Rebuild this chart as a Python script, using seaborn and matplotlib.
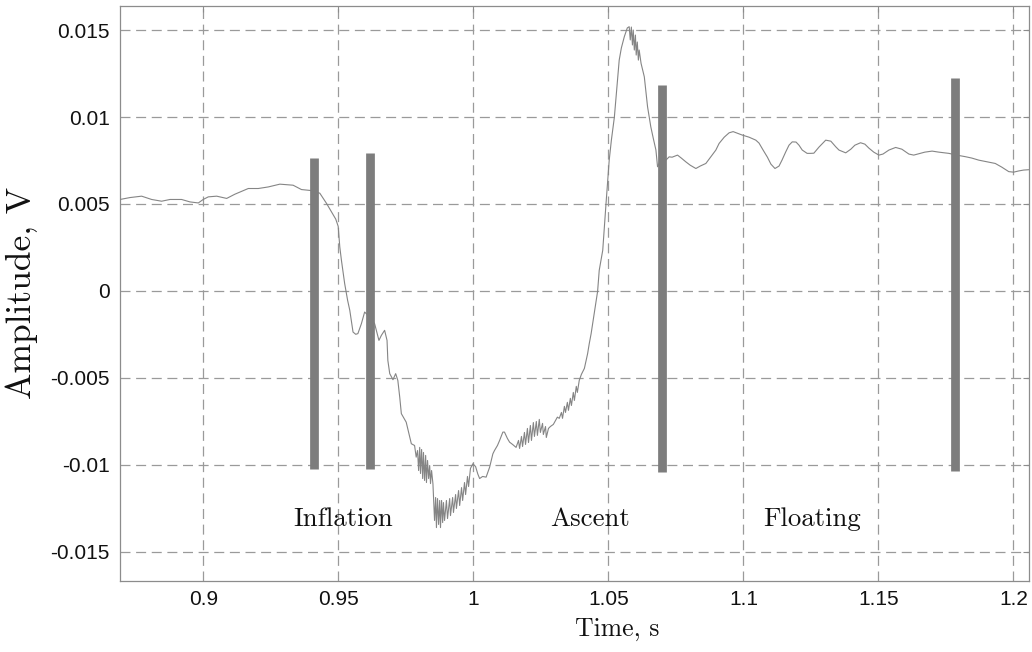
import numpy as np
import pandas as pd
import matplotlib
matplotlib.use("Agg")
import matplotlib.pyplot as plt
import seaborn as sns

# Recorded signal: time (s) and amplitude (V)
time_s = [
    0.8691, 0.8728, 0.8771, 0.8808, 0.8845, 0.8876, 0.8919, 0.8950, 0.8981, 0.8999,
    0.9018, 0.9049, 0.9086, 0.9116, 0.9166, 0.9203, 0.9240, 0.9283, 0.9332, 0.9363,
    0.9401, 0.9431, 0.9456, 0.9475, 0.9490, 0.9499, 0.9505, 0.9511, 0.9523, 0.9534,
    0.9542, 0.9554, 0.9564, 0.9572, 0.9585, 0.9597, 0.9616, 0.9634, 0.9650, 0.9659,
    0.9671, 0.9680, 0.9683, 0.9690, 0.9702, 0.9712, 0.9720, 0.9727, 0.9733, 0.9751,
    0.9764, 0.9770, 0.9782, 0.9788,
    0.9793, 0.9797, 0.9801, 0.9804, 0.9808, 0.9812, 0.9815, 0.9819, 0.9823, 0.9826,
    0.9830, 0.9834, 0.9838, 0.9841, 0.9845, 0.9850,
    0.9852, 0.9856, 0.9860, 0.9863, 0.9867, 0.9871, 0.9875, 0.9878, 0.9882, 0.9886,
    0.9889, 0.9893, 0.9900, 0.9904, 0.9912, 0.9915, 0.9923, 0.9926, 0.9934, 0.9937,
    0.9945, 0.9949, 0.9956, 0.9960, 0.9967, 0.9971, 0.9978, 0.9982,
    0.9989, 0.9998, 1.0008, 1.0016, 1.0023, 1.0034, 1.0047, 1.0060, 1.0072, 1.0078,
    1.0089, 1.0097, 1.0109, 1.0115, 1.0126, 1.0134, 1.0145, 1.0158,
    1.0167, 1.0171, 1.0178, 1.0182, 1.0189, 1.0193, 1.0200, 1.0204, 1.0211, 1.0215,
    1.0222, 1.0226, 1.0233, 1.0237, 1.0244, 1.0248, 1.0256, 1.0259, 1.0267, 1.0270,
    1.0278, 1.0285, 1.0296, 1.0304, 1.0311, 1.0318, 1.0326, 1.0330, 1.0337, 1.0341,
    1.0348, 1.0352, 1.0359, 1.0363, 1.0370, 1.0374, 1.0381, 1.0385, 1.0392, 1.0400,
    1.0411, 1.0423, 1.0429, 1.0436, 1.0448, 1.0460, 1.0466, 1.0479, 1.0491, 1.0503,
    1.0511, 1.0522, 1.0529, 1.0540, 1.0548, 1.0559, 1.0570, 1.0577,
    1.0581, 1.0585, 1.0589, 1.0592, 1.0596, 1.0600, 1.0603, 1.0607, 1.0611, 1.0614,
    1.0621, 1.0633, 1.0645, 1.0657, 1.0666, 1.0676, 1.0682, 1.0688, 1.0699, 1.0713,
    1.0725, 1.0736, 1.0756, 1.0770, 1.0787, 1.0803, 1.0824, 1.0840, 1.0861, 1.0881,
    1.0898, 1.0910, 1.0929, 1.0947, 1.0962, 1.0977, 1.0996, 1.1021, 1.1046, 1.1058,
    1.1073, 1.1089, 1.1102, 1.1117, 1.1132, 1.1143, 1.1157, 1.1169, 1.1181, 1.1195,
    1.1206, 1.1218, 1.1236, 1.1249, 1.1261, 1.1280, 1.1305, 1.1324, 1.1342, 1.1354,
    1.1379, 1.1398, 1.1413, 1.1434, 1.1450, 1.1465, 1.1483, 1.1502, 1.1517, 1.1539,
    1.1564, 1.1587, 1.1613, 1.1631, 1.1650, 1.1672, 1.1699, 1.1724, 1.1761, 1.1790,
    1.1822, 1.1846, 1.1872, 1.1901, 1.1933, 1.1957, 1.1983, 1.2001, 1.2020, 1.2038,
    1.2057,
]
amplitude_v = [
    0.00526, 0.00537, 0.00545, 0.00526, 0.00516, 0.00526, 0.00526, 0.00512, 0.00506, 0.00526,
    0.00541, 0.00545, 0.00532, 0.00556, 0.00589, 0.00589, 0.00598, 0.00614, 0.00608, 0.00583,
    0.00577, 0.00562, 0.00503, 0.00453, 0.00413, 0.00372, 0.00253, 0.00177, 0.00043, -0.00054,
    -0.00111, -0.00236, -0.00249, -0.00245, -0.00188, -0.00121, -0.00150, -0.00188, -0.00284, -0.00255,
    -0.00226, -0.00284, -0.00399, -0.00475, -0.00510, -0.00475, -0.00514, -0.00610, -0.00705, -0.00754,
    -0.00840, -0.00878, -0.00888, -0.00955,
    -0.00917, -0.01032, -0.00899, -0.01049, -0.00911, -0.01078, -0.00928, -0.01089, -0.00945, -0.01101,
    -0.00974, -0.01078, -0.01003, -0.01107, -0.01032, -0.01108,
    -0.01176, -0.01319, -0.01187, -0.01360, -0.01193, -0.01342, -0.01204, -0.01360, -0.01204, -0.01331,
    -0.01216, -0.01319, -0.01204, -0.01308, -0.01193, -0.01291, -0.01187, -0.01273, -0.01170, -0.01250,
    -0.01147, -0.01233, -0.01130, -0.01204, -0.01101, -0.01170, -0.01066, -0.01124,
    -0.01020, -0.00993, -0.01009, -0.01051, -0.01078, -0.01066, -0.01070, -0.01013, -0.00936, -0.00917,
    -0.00888, -0.00859, -0.00811, -0.00811, -0.00848, -0.00869, -0.00882, -0.00899,
    -0.00859, -0.00905, -0.00836, -0.00894, -0.00813, -0.00882, -0.00790, -0.00871, -0.00773, -0.00859,
    -0.00756, -0.00836, -0.00750, -0.00830, -0.00738, -0.00813, -0.00761, -0.00825, -0.00779, -0.00842,
    -0.00790, -0.00779, -0.00767, -0.00744, -0.00725, -0.00732, -0.00698, -0.00732, -0.00663, -0.00698,
    -0.00640, -0.00686, -0.00617, -0.00658, -0.00583, -0.00629, -0.00548, -0.00583, -0.00514, -0.00479,
    -0.00445, -0.00360, -0.00303, -0.00245, -0.00123, -0.00002, 0.00119, 0.00234, 0.00499, 0.00752,
    0.00867, 0.00998, 0.01126, 0.01327, 0.01397, 0.01462, 0.01512, 0.01519,
    0.01443, 0.01517, 0.01414, 0.01500, 0.01385, 0.01471, 0.01356, 0.01431, 0.01327, 0.01385,
    0.01308, 0.01231, 0.01059, 0.00944, 0.00879, 0.00810, 0.00714, 0.00733, 0.00764, 0.00752,
    0.00771, 0.00769, 0.00781, 0.00764, 0.00742, 0.00723, 0.00704, 0.00718, 0.00733, 0.00775,
    0.00810, 0.00848, 0.00884, 0.00909, 0.00916, 0.00907, 0.00896, 0.00884, 0.00867, 0.00850,
    0.00810, 0.00769, 0.00729, 0.00704, 0.00718, 0.00752, 0.00800, 0.00838, 0.00857, 0.00856,
    0.00838, 0.00810, 0.00791, 0.00791, 0.00792, 0.00827, 0.00867, 0.00861, 0.00829, 0.00810,
    0.00794, 0.00815, 0.00838, 0.00852, 0.00844, 0.00821, 0.00798, 0.00781, 0.00787, 0.00810,
    0.00825, 0.00815, 0.00787, 0.00781, 0.00789, 0.00798, 0.00804, 0.00798, 0.00791, 0.00781,
    0.00772, 0.00764, 0.00752, 0.00743, 0.00733, 0.00712, 0.00686, 0.00683, 0.00690, 0.00695,
    0.00697,
]

# Phase boundary markers
marker_time = [0.9409, 0.9616, 1.0700, 1.1783]
marker_low = [-0.01022, -0.01022, -0.01041, -0.01032]
marker_high = [0.00762, 0.00791, 0.01184, 0.01222]

# Phase annotations
phase_names = ["Inflation", "Ascent", "Floating"]
phase_time = [0.9516, 1.0433, 1.1254]
phase_level = [-0.01348, -0.01348, -0.01348]

# Axis ticks
x_ticks = [0.9, 0.95, 1.0, 1.05, 1.1, 1.15, 1.2]
x_tick_labels = ["0.9", "0.95", "1", "1.05", "1.1", "1.15", "1.2"]
y_ticks = [0.015, 0.01, 0.005, 0.0, -0.005, -0.01, -0.015]
y_tick_labels = ["0.015", "0.01", "0.005", "0", "-0.005", "-0.01", "-0.015"]

sns.set_style("white")
plt.rcParams["font.family"] = ["Liberation Sans", "DejaVu Sans"]

fig = plt.figure(figsize=(10.32, 6.52), dpi=100)
ax = fig.add_axes([0.1158, 0.1094, 0.8813, 0.8814])

signal = pd.DataFrame({"time": time_s, "amplitude": amplitude_v})
sns.lineplot(data=signal, x="time", y="amplitude", ax=ax, sort=False,
             estimator=None, color="#858585", linewidth=0.8, zorder=3)

ax.vlines(marker_time, marker_low, marker_high, colors="#7d7d7d",
          linewidth=6.3, zorder=4, capstyle="butt")

for name, t, lvl in zip(phase_names, phase_time, phase_level):
    ax.text(t, lvl, name, ha="center", va="baseline", fontsize=19.3,
            family="cmr10", color="#111111")

ax.set_xlim(0.8689, 1.2058)
ax.set_ylim(-0.01665, 0.01638)
ax.set_xticks(x_ticks)
ax.set_xticklabels(x_tick_labels)
ax.set_yticks(y_ticks)
ax.set_yticklabels(y_tick_labels)

ax.grid(True, color="#9a9a9a", linewidth=0.9, linestyle=(0, (8, 4.5)))
ax.set_axisbelow(True)
for s in ax.spines.values():
    s.set_color("#8c8c8c")
    s.set_linewidth(0.9)
ax.tick_params(axis="both", which="major", direction="in", length=4,
               color="#8c8c8c", labelsize=15, labelcolor="#111111",
               top=True, right=True, pad=7)

ax.set_xlabel("Time, s", family="cmr10", fontsize=18.5, color="#111111")
ax.set_ylabel("Amplitude, V", family="cmr10", fontsize=25.5, color="#111111")
ax.xaxis.set_label_coords(0.547, -0.063)
ax.yaxis.set_label_coords(-0.09, 0.5)

fig.savefig("out.png", dpi=100)
